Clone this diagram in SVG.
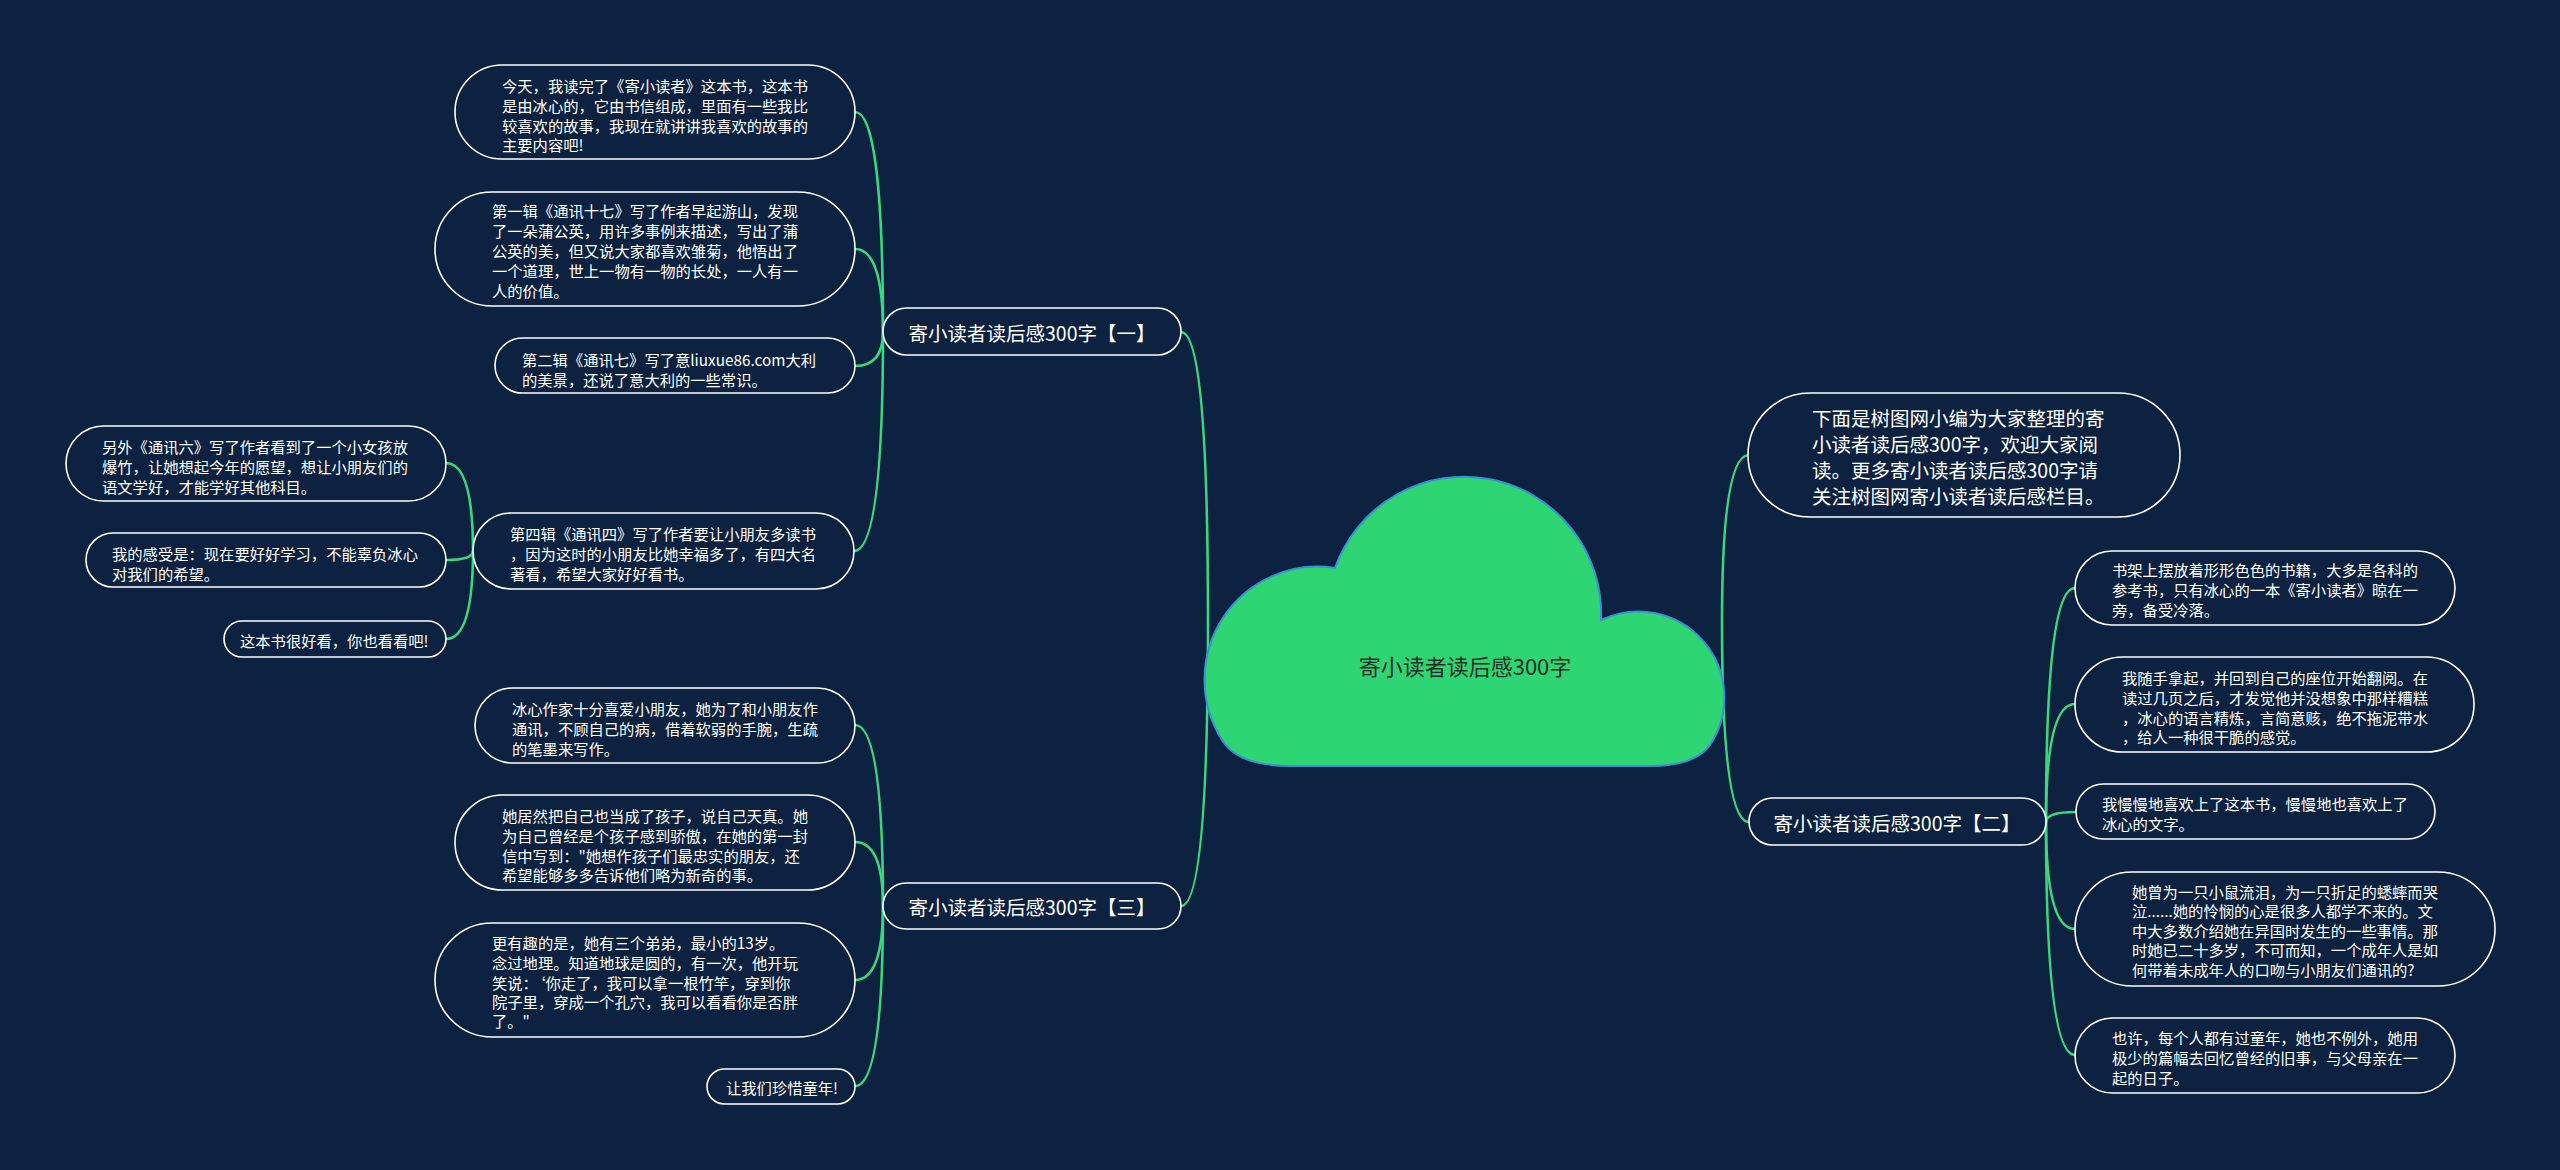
<svg xmlns="http://www.w3.org/2000/svg" width="2560" height="1170" viewBox="0 0 2560 1170">
<style>
.bg{fill:#0c2240}
.n{fill:#0c2240;stroke:#ffffff;stroke-width:1.6}
.t{font-family:"Noto Sans CJK SC","Noto Sans",sans-serif;fill:#ffffff;font-size:15.3px;dominant-baseline:central}
.tm{font-family:"Noto Sans CJK SC","Noto Sans",sans-serif;fill:#ffffff;font-size:19.5px;dominant-baseline:central}
.c{fill:none;stroke:#3ad87c;stroke-width:2.6}
.root{fill:#2ed573;stroke:#3b8fd6;stroke-width:2}
.rt{font-family:"Noto Sans CJK SC","Noto Sans",sans-serif;fill:#1f2d27;font-size:22px;dominant-baseline:central;text-anchor:middle}
</style>
<rect class="bg" x="0" y="0" width="2560" height="1170"/>
<g id="connectors">
<path class="c" d="M1208,622 Q1208,332 1181,332"/>
<path class="c" d="M1208,622 Q1208,906 1181,906"/>
<path class="c" d="M1722,622 Q1722,455 1749,455"/>
<path class="c" d="M1722,622 Q1722,822 1749,822"/>
<path class="c" d="M883,332 Q883,112 855,112"/>
<path class="c" d="M883,332 Q883,249 855,249"/>
<path class="c" d="M883,332 Q883,366 855,366"/>
<path class="c" d="M883,332 Q883,551 854,551"/>
<path class="c" d="M473,551 Q473,463 446,463"/>
<path class="c" d="M473,551 Q473,560 446,560"/>
<path class="c" d="M473,551 Q473,639 446,639"/>
<path class="c" d="M883,906 Q883,725 855,725"/>
<path class="c" d="M883,906 Q883,842 855,842"/>
<path class="c" d="M883,906 Q883,980 855,980"/>
<path class="c" d="M883,906 Q883,1086 855,1086"/>
<path class="c" d="M2046,822 Q2046,588 2075,588"/>
<path class="c" d="M2046,822 Q2046,704 2075,704"/>
<path class="c" d="M2046,822 Q2046,812 2076,812"/>
<path class="c" d="M2046,822 Q2046,929 2075,929"/>
<path class="c" d="M2046,822 Q2046,1055 2075,1055"/>
</g>
<g id="root">
<path class="root" d="M1290,766 Q1238,766 1222,740 A113,113 0 0 1 1335,568 A137,137 0 0 1 1601,620 A86,86 0 0 1 1710,745 Q1695,766 1650,766 Z"/>
<text class="rt" x="1465" y="665">寄小读者读后感300字</text>
</g>
<g id="sub1">
<rect class="n" x="883" y="308" width="298" height="47" rx="23.5"/>
<text class="tm" x="1032" y="332" text-anchor="middle">寄小读者读后感300字【一】</text>
</g>
<g id="sub3">
<rect class="n" x="883" y="883" width="298" height="46" rx="23"/>
<text class="tm" x="1032" y="906" text-anchor="middle">寄小读者读后感300字【三】</text>
</g>
<g id="sub2">
<rect class="n" x="1749" y="798" width="297" height="47" rx="23.5"/>
<text class="tm" x="1897" y="822" text-anchor="middle">寄小读者读后感300字【二】</text>
</g>
<g id="intro">
<rect class="n" x="1748" y="393" width="432" height="124" rx="62"/>
<text class="tm" x="1812" y="417">下面是树图网小编为大家整理的寄</text>
<text class="tm" x="1812" y="443">小读者读后感300字，欢迎大家阅</text>
<text class="tm" x="1812" y="469">读。更多寄小读者读后感300字请</text>
<text class="tm" x="1812" y="495">关注树图网寄小读者读后感栏目。</text>
</g>
<g id="n1">
<rect class="n" x="455" y="65" width="400" height="94" rx="47"/>
<text class="t" x="502" y="85">今天，我读完了《寄小读者》这本书，这本书</text>
<text class="t" x="502" y="105">是由冰心的，它由书信组成，里面有一些我比</text>
<text class="t" x="502" y="125">较喜欢的故事，我现在就讲讲我喜欢的故事的</text>
<text class="t" x="502" y="144">主要内容吧!</text>
</g>
<g id="n2">
<rect class="n" x="435" y="192" width="420" height="114" rx="57"/>
<text class="t" x="492" y="210">第一辑《通讯十七》写了作者早起游山，发现</text>
<text class="t" x="492" y="230">了一朵蒲公英，用许多事例来描述，写出了蒲</text>
<text class="t" x="492" y="250">公英的美，但又说大家都喜欢雏菊，他悟出了</text>
<text class="t" x="492" y="270">一个道理，世上一物有一物的长处，一人有一</text>
<text class="t" x="492" y="290">人的价值。</text>
</g>
<g id="n3">
<rect class="n" x="495" y="338" width="360" height="55" rx="27.5"/>
<text class="t" x="522" y="359">第二辑《通讯七》写了意liuxue86.com大利</text>
<text class="t" x="522" y="379">的美景，还说了意大利的一些常识。</text>
</g>
<g id="n4">
<rect class="n" x="473" y="513" width="381" height="76" rx="38"/>
<text class="t" x="510" y="533">第四辑《通讯四》写了作者要让小朋友多读书</text>
<text class="t" x="510" y="553">，因为这时的小朋友比她幸福多了，有四大名</text>
<text class="t" x="510" y="573">著看，希望大家好好看书。</text>
</g>
<g id="n4a">
<rect class="n" x="66" y="426" width="380" height="75" rx="37.5"/>
<text class="t" x="102" y="446">另外《通讯六》写了作者看到了一个小女孩放</text>
<text class="t" x="102" y="466">爆竹，让她想起今年的愿望，想让小朋友们的</text>
<text class="t" x="102" y="486">语文学好，才能学好其他科目。</text>
</g>
<g id="n4b">
<rect class="n" x="86" y="533" width="360" height="54" rx="27"/>
<text class="t" x="112" y="553">我的感受是：现在要好好学习，不能辜负冰心</text>
<text class="t" x="112" y="573">对我们的希望。</text>
</g>
<g id="n4c">
<rect class="n" x="224" y="621" width="222" height="36" rx="18"/>
<text class="t" x="240" y="640">这本书很好看，你也看看吧!</text>
</g>
<g id="n5">
<rect class="n" x="475" y="688" width="380" height="75" rx="37.5"/>
<text class="t" x="512" y="708">冰心作家十分喜爱小朋友，她为了和小朋友作</text>
<text class="t" x="512" y="728">通讯，不顾自己的病，借着软弱的手腕，生疏</text>
<text class="t" x="512" y="748">的笔墨来写作。</text>
</g>
<g id="n6">
<rect class="n" x="455" y="795" width="400" height="95" rx="47.5"/>
<text class="t" x="502" y="815">她居然把自己也当成了孩子，说自己天真。她</text>
<text class="t" x="502" y="835">为自己曾经是个孩子感到骄傲，在她的第一封</text>
<text class="t" x="502" y="855">信中写到："她想作孩子们最忠实的朋友，还</text>
<text class="t" x="502" y="874">希望能够多多告诉他们略为新奇的事。</text>
</g>
<g id="n7">
<rect class="n" x="435" y="923" width="420" height="114" rx="57"/>
<text class="t" x="492" y="942">更有趣的是，她有三个弟弟，最小的13岁。</text>
<text class="t" x="492" y="962">念过地理。知道地球是圆的，有一次，他开玩</text>
<text class="t" x="492" y="982">笑说：‘你走了，我可以拿一根竹竿，穿到你</text>
<text class="t" x="492" y="1001">院子里，穿成一个孔穴，我可以看看你是否胖</text>
<text class="t" x="492" y="1020">了。"</text>
</g>
<g id="n8">
<rect class="n" x="707" y="1069" width="148" height="35" rx="17.5"/>
<text class="t" x="726" y="1087">让我们珍惜童年!</text>
</g>
<g id="r1">
<rect class="n" x="2075" y="551" width="380" height="74" rx="37"/>
<text class="t" x="2112" y="569">书架上摆放着形形色色的书籍，大多是各科的</text>
<text class="t" x="2112" y="589">参考书，只有冰心的一本《寄小读者》晾在一</text>
<text class="t" x="2112" y="609">旁，备受冷落。</text>
</g>
<g id="r2">
<rect class="n" x="2075" y="657" width="399" height="95" rx="47.5"/>
<text class="t" x="2122" y="677">我随手拿起，并回到自己的座位开始翻阅。在</text>
<text class="t" x="2122" y="697">读过几页之后，才发觉他并没想象中那样糟糕</text>
<text class="t" x="2122" y="717">，冰心的语言精炼，言简意赅，绝不拖泥带水</text>
<text class="t" x="2122" y="736">，给人一种很干脆的感觉。</text>
</g>
<g id="r3">
<rect class="n" x="2076" y="784" width="359" height="55" rx="27.5"/>
<text class="t" x="2102" y="803">我慢慢地喜欢上了这本书，慢慢地也喜欢上了</text>
<text class="t" x="2102" y="823">冰心的文字。</text>
</g>
<g id="r4">
<rect class="n" x="2075" y="872" width="420" height="114" rx="57"/>
<text class="t" x="2132" y="891">她曾为一只小鼠流泪，为一只折足的蟋蟀而哭</text>
<text class="t" x="2132" y="910">泣......她的怜悯的心是很多人都学不来的。文</text>
<text class="t" x="2132" y="930">中大多数介绍她在异国时发生的一些事情。那</text>
<text class="t" x="2132" y="949">时她已二十多岁，不可而知，一个成年人是如</text>
<text class="t" x="2132" y="969">何带着未成年人的口吻与小朋友们通讯的?</text>
</g>
<g id="r5">
<rect class="n" x="2075" y="1018" width="380" height="75" rx="37.5"/>
<text class="t" x="2112" y="1037">也许，每个人都有过童年，她也不例外，她用</text>
<text class="t" x="2112" y="1057">极少的篇幅去回忆曾经的旧事，与父母亲在一</text>
<text class="t" x="2112" y="1077">起的日子。</text>
</g>
</svg>
